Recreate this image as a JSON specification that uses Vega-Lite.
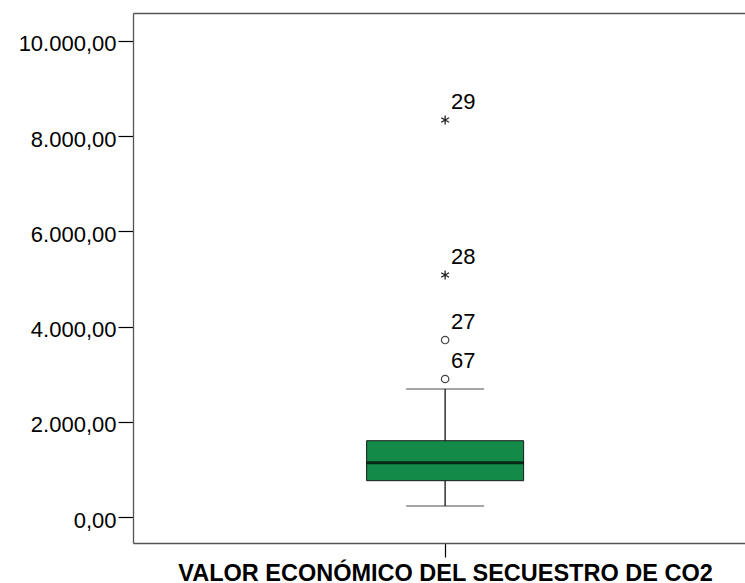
{
  "$schema": "https://vega.github.io/schema/vega-lite/v6.json",
  "width": 612,
  "height": 530,
  "autosize": {"type": "none"},
  "padding": {"left": 133, "top": 13, "right": 0, "bottom": 40},
  "background": "white",
  "config": {
    "locale": {"number": {"decimal": ",", "thousands": ".", "grouping": [3], "currency": ["", ""]}},
    "view": {"stroke": null},
    "font": "Liberation Sans",
    "axisY": {
      "labelFont": "Liberation Sans", "labelFontSize": 22, "labelColor": "#000000", "labelPadding": 2, "labelOffset": 3,
      "tickSize": 15, "tickColor": "#000000", "tickWidth": 1.2,
      "domain": true, "domainColor": "#555555", "domainWidth": 1.3, "grid": false, "title": null
    }
  },
  "datasets": {
    "box": [
      {"variable": "VALOR ECONÓMICO DEL SECUESTRO DE CO2", "min": 231, "q1": 763, "median": 1141, "q3": 1603, "max": 2689}
    ],
    "outliers": [
      {"variable": "VALOR ECONÓMICO DEL SECUESTRO DE CO2", "caso": "67", "valor": 2899, "tipo": "atípico"},
      {"variable": "VALOR ECONÓMICO DEL SECUESTRO DE CO2", "caso": "27", "valor": 3718, "tipo": "atípico"},
      {"variable": "VALOR ECONÓMICO DEL SECUESTRO DE CO2", "caso": "28", "valor": 5084, "tipo": "extremo"},
      {"variable": "VALOR ECONÓMICO DEL SECUESTRO DE CO2", "caso": "29", "valor": 8340, "tipo": "extremo"}
    ]
  },
  "resolve": {"axis": {"x": "independent"}},
  "layer": [
    {
      "data": {"name": "box"},
      "mark": {"type": "rule", "color": "#000000", "strokeWidth": 1.2},
      "encoding": {
        "x": {
          "field": "variable", "type": "nominal",
          "scale": {"type": "band", "paddingOuter": 0.5, "paddingInner": 0, "align": 0.52},
          "axis": {
            "orient": "bottom", "labels": false, "ticks": true, "tickSize": 14, "tickColor": "#000000", "tickWidth": 1.2,
            "domain": true, "domainColor": "#555555", "domainWidth": 1.3, "grid": false,
            "title": "VALOR ECONÓMICO DEL SECUESTRO DE CO2", "titleFont": "Liberation Sans", "titleFontSize": 23.5,
            "titleFontWeight": "bold", "titleColor": "#000000", "titlePadding": 4, "titleX": 312, "titleAlign": "center"
          }
        },
        "y": {
          "field": "min", "type": "quantitative",
          "scale": {"domain": [-546, 10588], "nice": false, "zero": false},
          "axis": {"orient": "left", "title": null, "values": [0, 2000, 4000, 6000, 8000, 10000], "format": ",.2f"}
        },
        "y2": {"field": "max"}
      }
    },
    {
      "data": {"name": "box"},
      "mark": {"type": "tick", "color": "#000000", "size": 78, "thickness": 1.2},
      "encoding": {
        "x": {
          "field": "variable", "type": "nominal",
          "scale": {"type": "band", "paddingOuter": 0.5, "paddingInner": 0, "align": 0.52},
          "axis": {"orient": "top", "labels": false, "ticks": false, "domain": true, "domainColor": "#555555", "domainWidth": 1.3, "grid": false, "title": null}
        },
        "y": {"field": "min", "type": "quantitative", "scale": {"domain": [-546, 10588], "nice": false, "zero": false}, "axis": {"orient": "left", "title": null, "values": [0, 2000, 4000, 6000, 8000, 10000], "format": ",.2f"}}
      }
    },
    {
      "data": {"name": "box"},
      "mark": {"type": "tick", "color": "#000000", "size": 78, "thickness": 1.2},
      "encoding": {
        "x": {"field": "variable", "type": "nominal", "scale": {"type": "band", "paddingOuter": 0.5, "paddingInner": 0, "align": 0.52}, "axis": null},
        "y": {"field": "max", "type": "quantitative", "scale": {"domain": [-546, 10588], "nice": false, "zero": false}, "axis": {"orient": "left", "title": null, "values": [0, 2000, 4000, 6000, 8000, 10000], "format": ",.2f"}}
      }
    },
    {
      "data": {"name": "box"},
      "mark": {"type": "bar", "width": 157, "fill": "#138A47", "stroke": "#1a1a1a", "strokeWidth": 1},
      "encoding": {
        "x": {"field": "variable", "type": "nominal", "scale": {"type": "band", "paddingOuter": 0.5, "paddingInner": 0, "align": 0.52}, "axis": null},
        "y": {"field": "q1", "type": "quantitative", "scale": {"domain": [-546, 10588], "nice": false, "zero": false}, "axis": {"orient": "left", "title": null, "values": [0, 2000, 4000, 6000, 8000, 10000], "format": ",.2f"}},
        "y2": {"field": "q3"}
      }
    },
    {
      "data": {"name": "box"},
      "mark": {"type": "tick", "color": "#000000", "size": 157, "thickness": 3},
      "encoding": {
        "x": {"field": "variable", "type": "nominal", "scale": {"type": "band", "paddingOuter": 0.5, "paddingInner": 0, "align": 0.52}, "axis": null},
        "y": {"field": "median", "type": "quantitative", "scale": {"domain": [-546, 10588], "nice": false, "zero": false}, "axis": {"orient": "left", "title": null, "values": [0, 2000, 4000, 6000, 8000, 10000], "format": ",.2f"}}
      }
    },
    {
      "data": {"name": "outliers"},
      "transform": [{"filter": "datum.tipo === 'atípico'"}],
      "mark": {"type": "point", "shape": "circle", "filled": false, "size": 55, "stroke": "#444444", "strokeWidth": 1.2, "opacity": 1},
      "encoding": {
        "x": {"field": "variable", "type": "nominal", "scale": {"type": "band", "paddingOuter": 0.5, "paddingInner": 0, "align": 0.52}, "axis": null},
        "y": {"field": "valor", "type": "quantitative", "scale": {"domain": [-546, 10588], "nice": false, "zero": false}, "axis": {"orient": "left", "title": null, "values": [0, 2000, 4000, 6000, 8000, 10000], "format": ",.2f"}}
      }
    },
    {
      "data": {"name": "outliers"},
      "transform": [{"filter": "datum.tipo === 'extremo'"}],
      "mark": {"type": "point", "shape": "M0,-1L0,1M-0.87,-0.5L0.87,0.5M-0.87,0.5L0.87,-0.5", "filled": false, "size": 81, "stroke": "#222222", "strokeWidth": 1.3, "opacity": 1},
      "encoding": {
        "x": {"field": "variable", "type": "nominal", "scale": {"type": "band", "paddingOuter": 0.5, "paddingInner": 0, "align": 0.52}, "axis": null},
        "y": {"field": "valor", "type": "quantitative", "scale": {"domain": [-546, 10588], "nice": false, "zero": false}, "axis": {"orient": "left", "title": null, "values": [0, 2000, 4000, 6000, 8000, 10000], "format": ",.2f"}}
      }
    },
    {
      "data": {"name": "outliers"},
      "mark": {"type": "text", "align": "left", "baseline": "alphabetic", "dx": 6, "dy": -11, "font": "Liberation Sans", "fontSize": 22, "color": "#000000"},
      "encoding": {
        "x": {"field": "variable", "type": "nominal", "scale": {"type": "band", "paddingOuter": 0.5, "paddingInner": 0, "align": 0.52}, "axis": null},
        "y": {"field": "valor", "type": "quantitative", "scale": {"domain": [-546, 10588], "nice": false, "zero": false}, "axis": {"orient": "left", "title": null, "values": [0, 2000, 4000, 6000, 8000, 10000], "format": ",.2f"}},
        "text": {"field": "caso", "type": "nominal"}
      }
    }
  ]
}
